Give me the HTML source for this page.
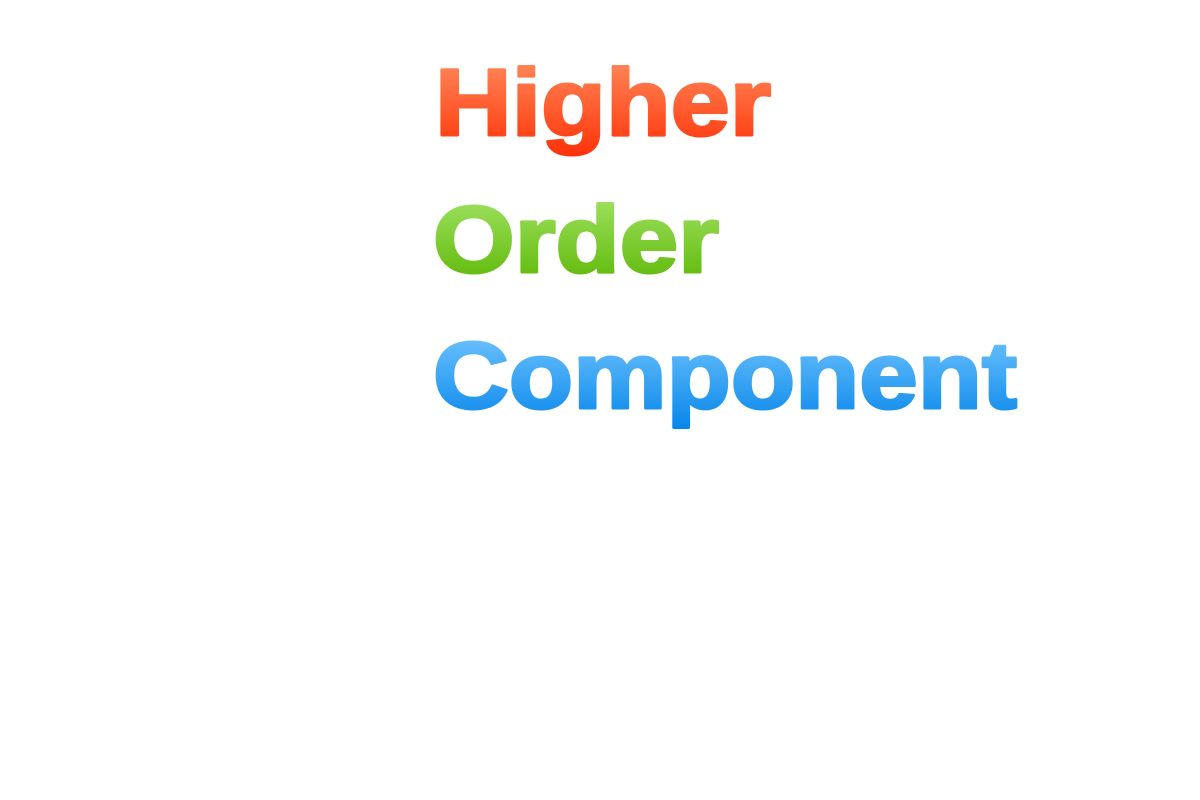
<!DOCTYPE html>
<html>
<head>
<meta charset="utf-8">
<style>
  html,body{margin:0;padding:0;background:#fff;width:1200px;height:800px;overflow:hidden;}
  svg{display:block;}
  text{font-family:"Liberation Sans",Arial,sans-serif;font-weight:bold;font-size:95px;stroke-width:3;stroke-linejoin:round;}
</style>
</head>
<body>
<svg width="1200" height="800" viewBox="0 0 1200 800">
  <defs>
    <linearGradient id="gRed" x1="0" y1="0" x2="0" y2="1">
      <stop offset="0" stop-color="#ff9060"/>
      <stop offset="1" stop-color="#ff3208"/>
    </linearGradient>
    <linearGradient id="gGreen" x1="0" y1="0" x2="0" y2="1">
      <stop offset="0" stop-color="#a6e66a"/>
      <stop offset="1" stop-color="#58b400"/>
    </linearGradient>
    <linearGradient id="gBlue" x1="0" y1="0" x2="0" y2="1">
      <stop offset="0" stop-color="#78c8ff"/>
      <stop offset="1" stop-color="#0686ea"/>
    </linearGradient>
  </defs>
  <text x="435" y="135" fill="url(#gRed)" stroke="url(#gRed)" textLength="336" lengthAdjust="spacingAndGlyphs">Higher</text>
  <text x="433" y="272" fill="url(#gGreen)" stroke="url(#gGreen)" textLength="286" lengthAdjust="spacingAndGlyphs">Order</text>
  <text x="433" y="408" fill="url(#gBlue)" stroke="url(#gBlue)" textLength="584" lengthAdjust="spacingAndGlyphs">Component</text>
</svg>
</body>
</html>
